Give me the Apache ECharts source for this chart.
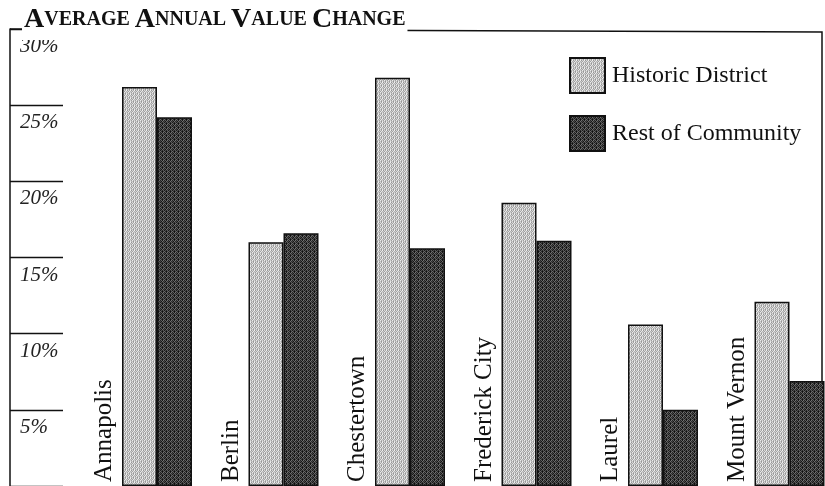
<!DOCTYPE html>
<html lang="en">
<head>
    <meta charset="utf-8">
    <script type="text/javascript" src="https://cdn.jsdelivr.net/npm/echarts@6/dist/echarts.min.js"></script>
</head>
<body style="height: 100%; margin: 0; background: #fff">
<div id="container" style="width:825px;height:486px"></div>

<script type="text/javascript">
    var categories = ['Annapolis', 'Berlin', 'Chestertown', 'Frederick City', 'Laurel', 'Mount Vernon'];
    var historic = [26.2, 16.0, 26.8, 18.6, 10.6, 12.1];
    var rest = [24.2, 16.6, 15.6, 16.1, 5.0, 6.9];
    var labelSlot = [0, 0, 0, 0, 0, 0];   // empty bars that carry the city names
    var seriesNames = ['Historic District', 'Rest of Community'];

    var serif = '"Liberation Serif", "DejaVu Serif", serif';

    // stippled fill like the printed original
    function stipple(levels) {
        var c = document.createElement('canvas');
        c.width = 4;
        c.height = 4;
        var ctx = c.getContext('2d');
        for (var y = 0; y < 4; y++) {
            for (var x = 0; x < 4; x++) {
                var g = levels[y][x];
                ctx.fillStyle = 'rgb(' + g + ',' + g + ',' + g + ')';
                ctx.fillRect(x, y, 1, 1);
            }
        }
        return {image: c, repeat: 'repeat'};
    }
    var lightFill = stipple([[235, 175, 210, 160], [200, 150, 230, 185], [215, 170, 240, 150], [160, 230, 180, 205]]);
    var darkFill = stipple([[35, 95, 25, 115], [70, 20, 110, 45], [25, 80, 40, 90], [105, 45, 15, 60]]);

    var dom = document.getElementById('container');
    var myChart = echarts.init(dom);

    var option = {
        animation: false,
        title: {
            text: '{a|A}{b|VERAGE }{a|A}{b|NNUAL }{a|V}{b|ALUE }{a|C}{b|HANGE}',
            left: 22,
            top: 4,
            padding: [2, 2, 6, 2],
            backgroundColor: '#fff',
            textStyle: {
                rich: {
                    a: {fontFamily: serif, fontWeight: 'bold', fontSize: 28, color: '#111'},
                    b: {fontFamily: serif, fontWeight: 'bold', fontSize: 20, color: '#111'}
                }
            }
        },
        legend: {
            data: seriesNames,
            orient: 'vertical',
            left: 564,
            top: 52,
            icon: 'rect',
            itemWidth: 35,
            itemHeight: 35,
            itemGap: 21,
            textStyle: {fontFamily: serif, fontSize: 24, color: '#111', padding: [0, 0, 0, 2]}
        },
        grid: {
            left: 76.25,
            right: -10.25,
            top: 29,
            bottom: 0,
            containLabel: false,
            outerBoundsMode: 'none'
        },
        xAxis: {
            type: 'category',
            data: categories,
            axisLine: {show: false},
            axisTick: {show: false},
            axisLabel: {show: false}
        },
        yAxis: {
            type: 'value',
            min: 0,
            max: 30,
            interval: 5,
            offset: 66.25,
            splitLine: {show: false},
            axisLine: {show: true, lineStyle: {color: '#111', width: 1.5}},
            axisTick: {show: true, inside: true, length: 53, lineStyle: {color: '#111', width: 1.3}},
            axisLabel: {
                inside: true,
                margin: 10,
                align: 'left',
                verticalAlign: 'top',
                padding: [7, 0, 0, 0],
                formatter: '{value}%',
                fontFamily: serif,
                fontStyle: 'italic',
                fontSize: 21,
                color: '#222'
            }
        },
        series: [
            {
                name: 'labels',
                type: 'bar',
                data: labelSlot,
                barWidth: 35,
                barGap: '0%',
                itemStyle: {color: 'transparent'},
                label: {
                    show: true,
                    position: 'insideBottom',
                    distance: 4,
                    rotate: 90,
                    align: 'left',
                    verticalAlign: 'middle',
                    formatter: '{b}',
                    fontFamily: serif,
                    fontSize: 25,
                    color: '#111'
                },
                silent: true
            },
            {
                name: seriesNames[0],
                type: 'bar',
                data: historic,
                barWidth: 35,
                barGap: '0%',
                itemStyle: {color: lightFill, borderColor: '#111', borderWidth: 1.5}
            },
            {
                name: seriesNames[1],
                type: 'bar',
                data: rest,
                barWidth: 35,
                barGap: '0%',
                itemStyle: {color: darkFill, borderColor: '#111', borderWidth: 1.5}
            }
        ],
        graphic: [
            {
                type: 'polyline',
                z: 0,
                shape: {points: [[10, 29], [822, 32], [822, 486]]},
                style: {stroke: '#111', lineWidth: 1.5, fill: null}
            }
        ]
    };

    myChart.setOption(option);
</script>
</body>
</html>
